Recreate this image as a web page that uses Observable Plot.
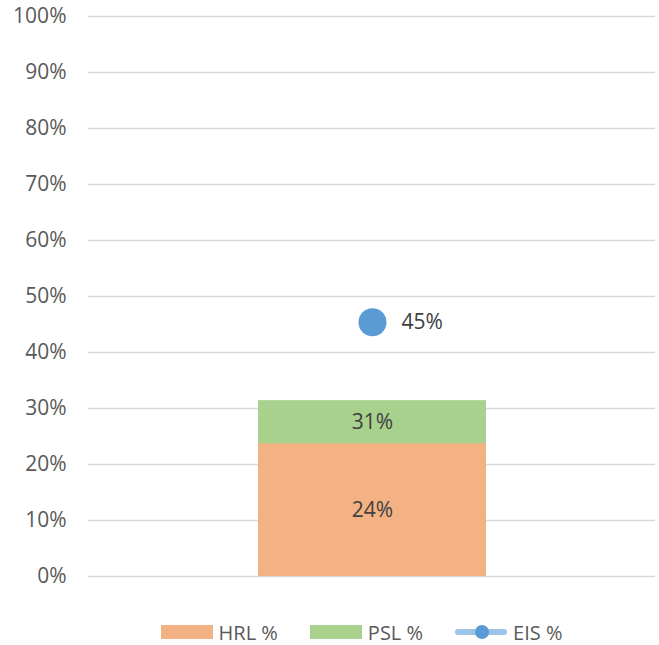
<!DOCTYPE html>
<html>
<head>
<meta charset="utf-8">
<script src="https://cdn.jsdelivr.net/npm/d3@7"></script>
<script src="https://cdn.jsdelivr.net/npm/@observablehq/plot@0.6"></script>
<style>
  body { margin: 0; background: #fff; font-family: "Open Sans", sans-serif; }
  #legend { display: flex; justify-content: center; align-items: center; height: 44px; font-size: 20px; color: #595959; padding-left: 64px; }
  .item { display: flex; align-items: center; margin: 0 16px; }
  .sw { width: 52px; height: 14px; margin-right: 6px; }
</style>
</head>
<body>
<div id="chart"></div>
<div id="legend"></div>
<script>
const categories = ["Total"];
const hrlValues = [23.7];
const pslValues = [31.4];
const eisValues = [45.4];
const hrlLabels = ["24%"];
const pslLabels = ["31%"];
const eisLabels = ["45%"];
const yTicks = [0, 10, 20, 30, 40, 50, 60, 70, 80, 90, 100];

const colors = { HRL: "#F4B183", PSL: "#A9D18E", EIS: "#5B9BD5", EISline: "#9DC3E6" };

const rows = categories.map((c, i) => ({
  cat: c, hrl: hrlValues[i], psl: pslValues[i], eis: eisValues[i],
  hrlLabel: hrlLabels[i], pslLabel: pslLabels[i], eisLabel: eisLabels[i]
}));

const chart = Plot.plot({
  width: 659,
  height: 610,
  marginTop: 16,
  marginBottom: 34,
  marginLeft: 88,
  marginRight: 4,
  style: { fontFamily: "Open Sans, sans-serif", fontSize: "21px", color: "#595959", background: "#fff" },
  x: { domain: categories, paddingInner: 0, paddingOuter: 0.738, axis: null },
  y: { domain: [0, 100], ticks: yTicks, tickFormat: d => d + "%", tickSize: 0, tickPadding: 22, label: null },
  marks: [
    Plot.ruleY(yTicks, { stroke: "#d9d9d9", strokeWidth: 1.5 }),
    Plot.barY(rows, { x: "cat", y: "psl", fill: colors.PSL }),
    Plot.barY(rows, { x: "cat", y: "hrl", fill: colors.HRL }),
    Plot.text(rows, { x: "cat", y: d => d.hrl / 2, text: "hrlLabel", fill: "#404040", fontSize: 21 }),
    Plot.text(rows, { x: "cat", y: d => (d.hrl + d.psl) / 2, text: "pslLabel", fill: "#404040", fontSize: 21 }),
    Plot.dot(rows, { x: "cat", y: "eis", r: 14, fill: colors.EIS }),
    Plot.text(rows, { x: "cat", y: "eis", text: "eisLabel", fill: "#404040", fontSize: 21, textAnchor: "start", dx: 29 })
  ]
});
document.getElementById("chart").appendChild(chart);

const legendItems = [
  { name: "HRL %", type: "rect", color: colors.HRL },
  { name: "PSL %", type: "rect", color: colors.PSL },
  { name: "EIS %", type: "line", color: colors.EIS }
];
const legend = document.getElementById("legend");
for (const it of legendItems) {
  const div = document.createElement("div");
  div.className = "item";
  if (it.type === "rect") {
    const sw = document.createElement("div");
    sw.className = "sw";
    sw.style.background = it.color;
    div.appendChild(sw);
  } else {
    const ns = "http://www.w3.org/2000/svg";
    const svg = document.createElementNS(ns, "svg");
    svg.setAttribute("width", 52); svg.setAttribute("height", 16);
    svg.style.marginRight = "6px";
    const line = document.createElementNS(ns, "line");
    line.setAttribute("x1", 3); line.setAttribute("x2", 49);
    line.setAttribute("y1", 8); line.setAttribute("y2", 8);
    line.setAttribute("stroke", colors.EISline); line.setAttribute("stroke-width", 6);
    line.setAttribute("stroke-linecap", "round");
    const c = document.createElementNS(ns, "circle");
    c.setAttribute("cx", 27); c.setAttribute("cy", 8); c.setAttribute("r", 7);
    c.setAttribute("fill", it.color);
    svg.appendChild(line); svg.appendChild(c);
    div.appendChild(svg);
  }
  const t = document.createElement("span");
  t.textContent = it.name;
  div.appendChild(t);
  legend.appendChild(div);
}
</script>
</body>
</html>
